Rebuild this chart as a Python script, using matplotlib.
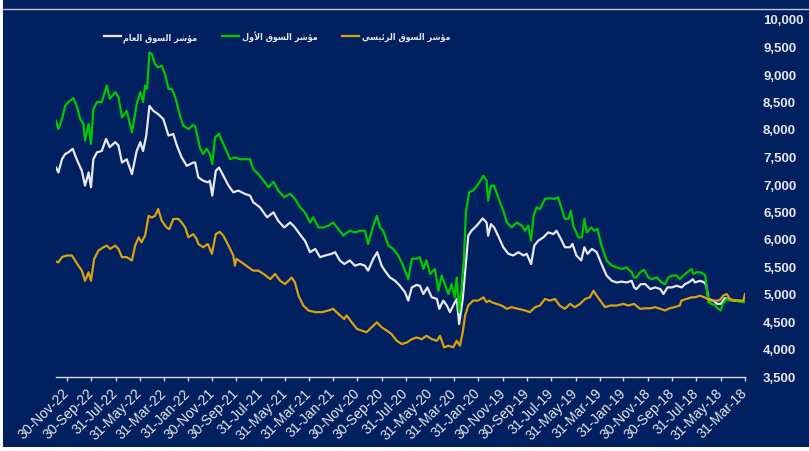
"""
Kuwait market indices (general / premier / main), Mar-2018 .. Dec-2022.
Values read off the reference chart; x axis runs newest -> oldest.
"""
import pandas as pd
import matplotlib
matplotlib.use("Agg")
import matplotlib.pyplot as plt
from matplotlib.lines import Line2D
from matplotlib.patches import Rectangle

# ---- data -----------------------------------------------------------------
general_dates = [
    "2022-12-28", "2022-12-22", "2022-12-13", "2022-12-05", "2022-11-27", "2022-11-16",
    "2022-11-06", "2022-10-24", "2022-10-16", "2022-10-07", "2022-10-01", "2022-09-25",
    "2022-09-16", "2022-09-04", "2022-08-24", "2022-08-15", "2022-08-01", "2022-07-24",
    "2022-07-15", "2022-07-03", "2022-06-20", "2022-06-08", "2022-05-30", "2022-05-23",
    "2022-05-15", "2022-05-07", "2022-04-27", "2022-04-15", "2022-04-02", "2022-03-20",
    "2022-03-08", "2022-02-27", "2022-02-15", "2022-02-02", "2022-01-17", "2022-01-12",
    "2022-01-04", "2021-12-23", "2021-12-11", "2021-12-06", "2021-11-30", "2021-11-21",
    "2021-11-13", "2021-11-02", "2021-10-20", "2021-10-08", "2021-09-25", "2021-09-09",
    "2021-08-27", "2021-08-19", "2021-08-02", "2021-07-15", "2021-06-29", "2021-06-17",
    "2021-06-02", "2021-05-18", "2021-05-06", "2021-04-21", "2021-04-11", "2021-03-29",
    "2021-03-16", "2021-03-04", "2021-02-19", "2021-02-03", "2021-01-25", "2021-01-13",
    "2021-01-02", "2020-12-19", "2020-12-06", "2020-11-23", "2020-11-11", "2020-11-03",
    "2020-10-21", "2020-10-11", "2020-09-30", "2020-09-22", "2020-09-09", "2020-08-27",
    "2020-08-15", "2020-08-02", "2020-07-25", "2020-07-16", "2020-07-04", "2020-06-26",
    "2020-06-17", "2020-06-07", "2020-05-27", "2020-05-14", "2020-05-08", "2020-04-28",
    "2020-04-19", "2020-04-11", "2020-04-03", "2020-03-25", "2020-03-19", "2020-03-10",
    "2020-03-04", "2020-02-25", "2020-02-17", "2020-02-04", "2020-01-20", "2020-01-10",
    "2020-01-06", "2019-12-30", "2019-12-22", "2019-12-12", "2019-11-29", "2019-11-16",
    "2019-11-04", "2019-10-22", "2019-10-09", "2019-10-01", "2019-09-20", "2019-09-12",
    "2019-09-02", "2019-08-20", "2019-08-08", "2019-07-26", "2019-07-18", "2019-07-07",
    "2019-06-27", "2019-06-14", "2019-06-08", "2019-05-29", "2019-05-17", "2019-05-09",
    "2019-05-01", "2019-04-20", "2019-04-08", "2019-03-27", "2019-03-14", "2019-03-01",
    "2019-02-17", "2019-02-04", "2019-01-23", "2019-01-10", "2019-01-04", "2018-12-29",
    "2018-12-18", "2018-12-07", "2018-11-24", "2018-11-12", "2018-10-30", "2018-10-22",
    "2018-10-12", "2018-10-01", "2018-09-19", "2018-09-06", "2018-08-29", "2018-08-20",
    "2018-08-09", "2018-08-04", "2018-07-22", "2018-07-11", "2018-07-06", "2018-07-01",
    "2018-06-19", "2018-06-09", "2018-05-31", "2018-05-21", "2018-05-12", "2018-04-29",
    "2018-04-17", "2018-04-04",
]
general_vals = [
    7300, 7210, 7450, 7545, 7575, 7640, 7450, 7240, 6970, 7210, 6940, 7450,
    7575, 7600, 7820, 7670, 7760, 7700, 7390, 7450, 7180, 7600, 7760, 7600,
    7880, 8420, 8330, 8270, 8180, 7880, 7910, 7700, 7485, 7330, 7390, 7390,
    7120, 7060, 7030, 7060, 6790, 7240, 7300, 7150, 6970, 6850, 6880, 6820,
    6790, 6670, 6575, 6395, 6485, 6330, 6210, 6300, 6210, 6060, 5970, 5760,
    5820, 5670, 5700, 5730, 5760, 5610, 5545, 5610, 5515, 5545, 5515, 5425,
    5640, 5760, 5515, 5425, 5300, 5240, 5150, 5030, 4880, 5120, 5165, 5150,
    5000, 5120, 4940, 4910, 4730, 4880, 4790, 4670, 4790, 4910, 4455, 4910,
    5395, 6060, 6150, 6240, 6375, 6300, 6060, 6270, 6210, 6060, 5850, 5730,
    5700, 5760, 5700, 5730, 5545, 5880, 5970, 6030, 6120, 6090, 6150, 6000,
    5850, 5850, 5910, 5700, 5610, 5850, 5730, 5820, 5760, 5545, 5335, 5240,
    5210, 5225, 5210, 5240, 5120, 5090, 5180, 5180, 5090, 5120, 5090, 5000,
    5120, 5120, 5150, 5120, 5180, 5210, 5270, 5210, 5240, 5210, 5150, 4910,
    4880, 4820, 4820, 4925, 4910, 4880, 4880, 4860,
]

premier_dates = [
    "2022-12-28", "2022-12-22", "2022-12-13", "2022-12-05", "2022-11-27", "2022-11-14",
    "2022-11-06", "2022-10-28", "2022-10-20", "2022-10-16", "2022-10-07", "2022-10-01",
    "2022-09-25", "2022-09-16", "2022-09-04", "2022-08-26", "2022-08-22", "2022-08-15",
    "2022-08-01", "2022-07-24", "2022-07-15", "2022-07-03", "2022-06-20", "2022-06-08",
    "2022-05-30", "2022-05-23", "2022-05-18", "2022-05-13", "2022-05-07", "2022-05-01",
    "2022-04-23", "2022-04-15", "2022-04-06", "2022-03-29", "2022-03-20", "2022-03-12",
    "2022-03-03", "2022-02-19", "2022-02-11", "2022-01-29", "2022-01-17", "2022-01-12",
    "2021-12-31", "2021-12-23", "2021-12-14", "2021-12-06", "2021-11-30", "2021-11-23",
    "2021-11-13", "2021-11-06", "2021-10-25", "2021-10-16", "2021-10-04", "2021-09-21",
    "2021-09-09", "2021-08-27", "2021-08-19", "2021-08-06", "2021-07-24", "2021-07-11",
    "2021-06-29", "2021-06-17", "2021-06-02", "2021-05-18", "2021-05-06", "2021-04-23",
    "2021-04-11", "2021-03-29", "2021-03-21", "2021-03-08", "2021-02-24", "2021-02-11",
    "2021-01-30", "2021-01-17", "2021-01-04", "2020-12-31", "2020-12-19", "2020-12-06",
    "2020-11-23", "2020-11-11", "2020-11-03", "2020-10-21", "2020-10-12", "2020-10-04",
    "2020-09-26", "2020-09-13", "2020-09-01", "2020-08-19", "2020-08-07", "2020-07-25",
    "2020-07-16", "2020-07-04", "2020-06-26", "2020-06-17", "2020-06-09", "2020-05-31",
    "2020-05-19", "2020-05-10", "2020-05-02", "2020-04-24", "2020-04-15", "2020-04-07",
    "2020-03-30", "2020-03-25", "2020-03-19", "2020-03-13", "2020-03-07", "2020-03-02",
    "2020-02-23", "2020-02-13", "2020-01-31", "2020-01-18", "2020-01-10", "2020-01-06",
    "2019-12-30", "2019-12-22", "2019-12-12", "2019-11-29", "2019-11-20", "2019-11-08",
    "2019-10-26", "2019-10-13", "2019-10-05", "2019-09-27", "2019-09-20", "2019-09-14",
    "2019-09-06", "2019-08-29", "2019-08-16", "2019-08-04", "2019-07-22", "2019-07-14",
    "2019-07-05", "2019-06-27", "2019-06-18", "2019-06-12", "2019-06-06", "2019-05-24",
    "2019-05-15", "2019-05-09", "2019-05-03", "2019-04-22", "2019-04-14", "2019-04-06",
    "2019-03-27", "2019-03-14", "2019-03-01", "2019-02-17", "2019-02-04", "2019-01-23",
    "2019-01-10", "2019-01-04", "2018-12-29", "2018-12-20", "2018-12-10", "2018-11-29",
    "2018-11-21", "2018-11-08", "2018-10-27", "2018-10-18", "2018-10-10", "2018-10-01",
    "2018-09-19", "2018-09-11", "2018-09-02", "2018-08-23", "2018-08-12", "2018-08-08",
    "2018-07-30", "2018-07-22", "2018-07-13", "2018-07-09", "2018-07-05", "2018-07-01",
    "2018-06-23", "2018-06-14", "2018-06-06", "2018-05-31", "2018-05-26", "2018-05-16",
    "2018-05-08", "2018-04-25", "2018-04-13", "2018-04-03",
]
premier_vals = [
    8150, 8000, 8180, 8420, 8490, 8560, 8420, 8180, 8090, 7790, 8090, 7730,
    8360, 8490, 8490, 8700, 8790, 8550, 8670, 8580, 8210, 8330, 7940, 8450,
    8670, 8490, 8790, 8730, 9390, 9360, 9180, 9120, 9150, 9000, 8730, 8730,
    8580, 8240, 8060, 8000, 8070, 8050, 7660, 7545, 7640, 7545, 7365, 7850,
    7910, 7790, 7600, 7450, 7485, 7450, 7450, 7450, 7270, 7180, 7060, 6940,
    7040, 6880, 6760, 6820, 6730, 6575, 6485, 6300, 6395, 6210, 6210, 6240,
    6300, 6180, 6060, 6090, 6150, 6120, 6150, 6150, 5910, 6240, 6420, 6210,
    6150, 5880, 5820, 5700, 5515, 5270, 5640, 5640, 5670, 5455, 5610, 5365,
    5455, 5060, 5335, 5180, 5000, 5180, 4940, 5300, 4670, 5090, 5640, 6485,
    6850, 6880, 7000, 7150, 7060, 6700, 6970, 6970, 6760, 6515, 6300, 6210,
    6300, 6240, 6150, 6240, 5970, 6420, 6575, 6545, 6730, 6740, 6730, 6760,
    6545, 6365, 6365, 6515, 6240, 6030, 6030, 6365, 6120, 6210, 6150, 6180,
    5880, 5610, 5515, 5485, 5455, 5485, 5395, 5300, 5300, 5395, 5440, 5300,
    5270, 5300, 5210, 5180, 5300, 5335, 5335, 5270, 5335, 5395, 5455, 5365,
    5395, 5395, 5365, 5335, 5090, 4850, 4820, 4790, 4730, 4700, 4820, 4910,
    4880, 4880, 4860, 4850,
]

main_dates = [
    "2022-12-28", "2022-12-22", "2022-12-13", "2022-12-01", "2022-11-18", "2022-11-10",
    "2022-11-02", "2022-10-24", "2022-10-16", "2022-10-07", "2022-10-01", "2022-09-23",
    "2022-09-12", "2022-08-31", "2022-08-22", "2022-08-14", "2022-08-01", "2022-07-24",
    "2022-07-15", "2022-07-03", "2022-06-20", "2022-06-12", "2022-06-03", "2022-05-27",
    "2022-05-18", "2022-05-09", "2022-05-01", "2022-04-23", "2022-04-15", "2022-04-06",
    "2022-03-25", "2022-03-18", "2022-03-08", "2022-02-23", "2022-02-15", "2022-02-06",
    "2022-01-29", "2022-01-17", "2022-01-08", "2022-01-04", "2021-12-23", "2021-12-11",
    "2021-12-01", "2021-11-21", "2021-11-11", "2021-11-02", "2021-10-20", "2021-10-08",
    "2021-10-04", "2021-09-30", "2021-09-17", "2021-08-31", "2021-08-19", "2021-08-06",
    "2021-07-24", "2021-07-07", "2021-06-25", "2021-06-12", "2021-05-31", "2021-05-14",
    "2021-05-06", "2021-04-27", "2021-04-15", "2021-04-02", "2021-03-16", "2021-02-27",
    "2021-02-11", "2021-01-30", "2021-01-17", "2021-01-02", "2020-12-27", "2020-12-14",
    "2020-12-01", "2020-11-19", "2020-11-07", "2020-10-25", "2020-10-12", "2020-09-30",
    "2020-09-17", "2020-09-05", "2020-08-23", "2020-08-10", "2020-07-28", "2020-07-16",
    "2020-07-04", "2020-06-21", "2020-06-09", "2020-05-27", "2020-05-14", "2020-05-06",
    "2020-04-26", "2020-04-15", "2020-04-03", "2020-03-25", "2020-03-17", "2020-03-10",
    "2020-03-04", "2020-02-25", "2020-02-13", "2020-01-31", "2020-01-18", "2020-01-10",
    "2020-01-03", "2019-12-28", "2019-12-16", "2019-12-03", "2019-11-20", "2019-11-08",
    "2019-10-22", "2019-10-05", "2019-09-23", "2019-09-10", "2019-08-29", "2019-08-16",
    "2019-08-04", "2019-07-22", "2019-07-10", "2019-06-27", "2019-06-14", "2019-06-02",
    "2019-05-20", "2019-05-07", "2019-04-25", "2019-04-16", "2019-04-08", "2019-03-27",
    "2019-03-18", "2019-03-05", "2019-02-17", "2019-01-31", "2019-01-19", "2019-01-04",
    "2018-12-20", "2018-12-07", "2018-11-24", "2018-11-12", "2018-10-30", "2018-10-18",
    "2018-10-07", "2018-09-25", "2018-09-11", "2018-09-07", "2018-08-25", "2018-08-12",
    "2018-08-04", "2018-07-22", "2018-07-11", "2018-07-04", "2018-06-26", "2018-06-14",
    "2018-06-06", "2018-05-31", "2018-05-25", "2018-05-16", "2018-05-08", "2018-04-25",
    "2018-04-13", "2018-04-04", "2018-03-31",
]
main_vals = [
    5590, 5575, 5670, 5700, 5700, 5610, 5520, 5425, 5240, 5395, 5240, 5640,
    5790, 5850, 5880, 5820, 5880, 5820, 5670, 5670, 5610, 5880, 6030, 5940,
    6060, 6420, 6390, 6420, 6545, 6330, 6210, 6180, 6365, 6365, 6300, 6210,
    6030, 6090, 6000, 5910, 5850, 5910, 5730, 6090, 6130, 6060, 5880, 5700,
    5515, 5640, 5575, 5485, 5425, 5425, 5365, 5270, 5365, 5240, 5180, 5300,
    5210, 4970, 4790, 4700, 4670, 4670, 4700, 4730, 4640, 4545, 4610, 4485,
    4365, 4335, 4305, 4395, 4485, 4395, 4335, 4270, 4150, 4090, 4120, 4180,
    4210, 4180, 4240, 4180, 4150, 4240, 4030, 4060, 4030, 4150, 4060, 4305,
    4610, 4790, 4880, 4880, 4940, 4850, 4880, 4850, 4820, 4790, 4730, 4760,
    4730, 4700, 4670, 4760, 4790, 4910, 4880, 4910, 4790, 4730, 4820, 4760,
    4820, 4910, 4940, 5060, 4970, 4850, 4760, 4790, 4790, 4820, 4790, 4820,
    4730, 4740, 4740, 4760, 4730, 4700, 4740, 4760, 4790, 4880, 4910, 4940,
    4940, 4970, 4940, 4910, 4880, 4880, 4880, 4910, 4970, 5000, 4910, 4880,
    4880, 4880, 5000,
]

tick_labels = [
    "30-Nov-22", "30-Sep-22", "31-Jul-22", "31-May-22", "31-Mar-22", "31-Jan-22",
    "30-Nov-21", "30-Sep-21", "31-Jul-21", "31-May-21", "31-Mar-21", "31-Jan-21",
    "30-Nov-20", "30-Sep-20", "31-Jul-20", "31-May-20", "31-Mar-20", "31-Jan-20",
    "30-Nov-19", "30-Sep-19", "31-Jul-19", "31-May-19", "31-Mar-19", "31-Jan-19",
    "30-Nov-18", "30-Sep-18", "31-Jul-18", "31-May-18", "31-Mar-18",
]
y_ticks = list(range(3500, 10001, 500))

# Arabic legend labels, pre-shaped (presentation forms, visual order) since
# matplotlib does no bidi/shaping:  مؤشر السوق العام / الأول / الرئيسي
label_general = "\ufee1\ufe8e\ufecc\ufedf\ufe8d \ufed5\ufeee\ufeb4\ufedf\ufe8d \ufeae\ufeb7\ufe86\ufee3"
label_premier = "\ufedd\ufeed\ufef7\ufe8d \ufed5\ufeee\ufeb4\ufedf\ufe8d \ufeae\ufeb7\ufe86\ufee3"
label_main = "\ufef2\ufeb4\ufef4\ufe8b\ufeae\ufedf\ufe8d \ufed5\ufeee\ufeb4\ufedf\ufe8d \ufeae\ufeb7\ufe86\ufee3"

# ---- style ----------------------------------------------------------------
NAVY = "#002060"
TXT = "#E6E6E6"
C_GEN, C_PREM, C_MAIN = "#E8E8EE", "#00C800", "#D9A012"

plt.rcParams["font.family"] = ["Liberation Sans", "DejaVu Sans"]

fig = plt.figure(figsize=(8.09, 4.52), dpi=100, facecolor="white")
# navy canvas with thin white margin left/bottom like the source export
fig.add_artist(Rectangle((3 / 809, 4 / 452), 1, 1, transform=fig.transFigure,
                         facecolor=NAVY, edgecolor="none", zorder=0))
fig.add_artist(Line2D([3 / 809, 1], [1 - 9.5 / 452] * 2, transform=fig.transFigure,
                      color="#C8C8C8", lw=1.0))

ax = fig.add_axes([56 / 809, (452 - 377.5) / 452, 689 / 809, 357.5 / 452])
ax.set_facecolor("none")

ax.plot(pd.to_datetime(general_dates), general_vals, color=C_GEN, lw=1.6, label=label_general)
ax.plot(pd.to_datetime(premier_dates), premier_vals, color=C_PREM, lw=1.6, label=label_premier)
ax.plot(pd.to_datetime(main_dates), main_vals, color=C_MAIN, lw=1.6, label=label_main)

ax.set_xlim(pd.Timestamp("2022-12-28"), pd.Timestamp("2018-03-31"))   # newest on the left
ax.set_ylim(3500, 10000)

ax.set_xticks(pd.to_datetime(tick_labels, format="%d-%b-%y"))
ax.set_xticklabels(tick_labels, rotation=45, ha="right", va="center",
                   rotation_mode="anchor", fontsize=10, color=TXT)
ax.tick_params(axis="x", direction="out", length=3, width=1, color="#D9D9D9", pad=7)

ax.yaxis.tick_right()
ax.set_yticks(y_ticks)
ax.set_yticklabels([f"{v:,}" for v in y_ticks], fontsize=9.5, fontweight="bold", color=TXT)
ax.tick_params(axis="y", length=0, pad=13)

for s in ("top", "left", "right"):
    ax.spines[s].set_visible(False)
ax.spines["bottom"].set_color("#D9D9D9")
ax.spines["bottom"].set_linewidth(1)

leg = fig.legend(loc="center left", bbox_to_anchor=(99 / 809, 1 - 37 / 452), ncol=3,
                 frameon=False, borderpad=0, handlelength=1.9, handletextpad=0.3,
                 columnspacing=2.7,
                 prop={"family": "DejaVu Sans", "weight": "bold", "size": 6.5,
                       "stretch": "condensed"})
for t in leg.get_texts():
    t.set_color(TXT)

fig.savefig("out.png", dpi=100, facecolor=fig.get_facecolor())
